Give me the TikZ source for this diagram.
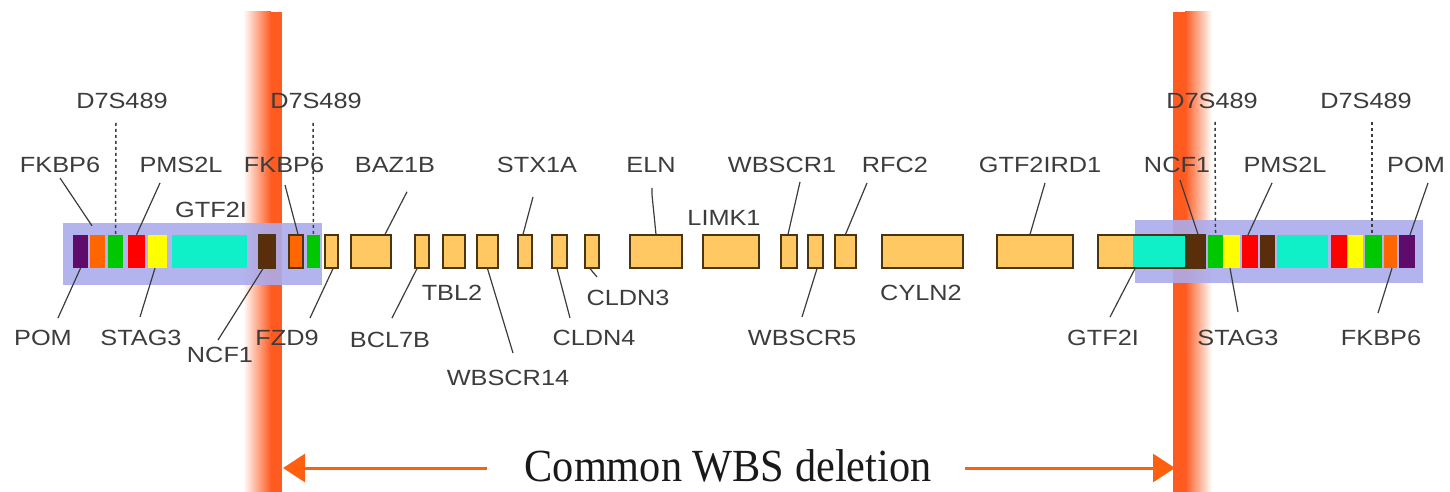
\documentclass[tikz,border=0pt]{standalone}
\usepackage{fontspec}
\newfontfamily\labfont[FakeStretch=1.15]{Liberation Sans}
\newfontfamily\capfont[FakeStretch=0.92]{Liberation Serif}
\usetikzlibrary{arrows.meta}
\definecolor{txtc}{HTML}{3C3C3C}
\definecolor{genec}{HTML}{FFC862}
\definecolor{geneedge}{HTML}{4A3510}
\definecolor{purp}{HTML}{5E0B6B}
\definecolor{orng}{HTML}{FF6600}
\definecolor{grn}{HTML}{00C800}
\definecolor{rd}{HTML}{FF0000}
\definecolor{ylw}{HTML}{FFFF00}
\definecolor{cyn}{HTML}{10F0C8}
\definecolor{brn}{HTML}{5A2E0A}
\definecolor{bandc}{HTML}{ABABEB}
\definecolor{barc}{HTML}{FF5A20}
\definecolor{arrc}{HTML}{FF6010}
\newcommand\gbox[4]{\node[#4, minimum width=#3pt] (#1) at (#2,251.5) {};}
\begin{document}
\begin{tikzpicture}[x=1pt,y=-1pt,
  lab/.style={font={\labfont\fontsize{22}{22}\selectfont}, text=txtc, inner sep=0pt},
  gene/.style={draw=geneedge, line width=1.3pt, fill=genec, minimum height=33pt, inner sep=0pt},
  chip/.style={fill=#1, draw=none, minimum height=33pt, inner sep=0pt},
  echip/.style={fill=#1, draw=geneedge, line width=1.3pt, minimum height=33pt, inner sep=0pt},
  band/.style={fill=bandc, fill opacity=0.9, draw=none, inner sep=0pt},
  conn/.style={draw=txtc, line width=1.2pt},
  dotl/.style={draw=txtc, line width=1.5pt, dash pattern=on 3pt off 3pt},
  arr/.style={draw=arrc, line width=3pt, -{Triangle[length=22pt,width=28pt]}}]
\useasboundingbox (0,0) rectangle (1450,492);
% vertical breakpoint bars
\shade[left color=white, right color=barc] (243,12) rectangle (271,492);
\fill[barc] (270.5,12) rectangle (282,492);
\fill[barc] (1173,12) rectangle (1185.5,492);
\shade[left color=barc, right color=white] (1185,12) rectangle (1212,492);
% bands
\node[band, minimum width=259pt, minimum height=62pt] (bandL) at (192.5,254) {};
\node[band, minimum width=288pt, minimum height=63pt] (bandR) at (1279,251.5) {};
% left chips
\gbox{L1}{80.5}{15}{chip=purp}
\gbox{L2}{97.5}{15}{chip=orng}
\gbox{L3}{115.5}{15}{chip=grn}
\gbox{L4}{136.5}{17}{chip=rd}
\gbox{L5}{157.5}{19}{chip=ylw}
\gbox{L6}{209.5}{75}{chip=cyn}
\gbox{L7}{267}{16}{echip=brn}
\gbox{L8}{296}{14}{echip=orng}
\gbox{L9}{313.5}{13}{chip=grn}
% genes
\gbox{gFZD9}{331.5}{13}{gene}
\gbox{gBAZ}{371}{40}{gene}
\gbox{gBCL}{422}{14}{gene}
\gbox{gTBL}{454}{22}{gene}
\gbox{gW14}{487.5}{21}{gene}
\gbox{gSTX}{525}{14}{gene}
\gbox{gCL4}{559.5}{15}{gene}
\gbox{gCL3}{592}{14}{gene}
\gbox{gELN}{656}{52}{gene}
\gbox{gLIM}{731}{56}{gene}
\gbox{gW1}{789}{16}{gene}
\gbox{gW5}{815.5}{15}{gene}
\gbox{gRFC}{845.5}{21}{gene}
\gbox{gCYL}{922.5}{81}{gene}
\gbox{gIRD}{1035}{76}{gene}
\node[gene, minimum width=88pt, path picture={\fill[cyn] ([xshift=35pt]path picture bounding box.south west) rectangle (path picture bounding box.north east);}] (gGTF) at (1142,251.5) {};
% right chips
\gbox{R1}{1196.5}{17}{echip=brn}
\gbox{R2}{1215.5}{15}{chip=grn}
\gbox{R3}{1231.5}{17}{chip=ylw}
\gbox{R4}{1250}{16}{chip=rd}
\gbox{R5}{1267.5}{15}{chip=brn}
\gbox{R6}{1302.5}{51}{chip=cyn}
\gbox{R7}{1339}{16}{chip=rd}
\gbox{R8}{1355.5}{15}{chip=ylw}
\gbox{R9}{1373.5}{17}{chip=grn}
\gbox{R10}{1390.5}{13}{chip=orng}
\gbox{R11}{1407}{16}{chip=purp}
% labels
\node[lab] (tD1) at (122,101) {D7S489};
\node[lab] (tD2) at (316,101) {D7S489};
\node[lab] (tD3) at (1212,101) {D7S489};
\node[lab] (tD4) at (1366,101) {D7S489};
\node[lab] (tFK1) at (60,165) {FKBP6};
\node[lab] (tPM1) at (181,165) {PMS2L};
\node[lab] (tFK2) at (284,165) {FKBP6};
\node[lab] (tBAZ) at (395,165) {BAZ1B};
\node[lab] (tSTX) at (537,165) {STX1A};
\node[lab] (tELN) at (651,165) {ELN};
\node[lab] (tW1) at (782,165) {WBSCR1};
\node[lab] (tRFC) at (895,165) {RFC2};
\node[lab] (tIRD) at (1040,165) {GTF2IRD1};
\node[lab] (tNC2) at (1177,165) {NCF1};
\node[lab] (tPM2) at (1285,165) {PMS2L};
\node[lab] (tPO2) at (1416,165) {POM};
\node[lab] (tGT1) at (211,210) {GTF2I};
\node[lab] (tLIM) at (724,218) {LIMK1};
\node[lab] (tTBL) at (452,293) {TBL2};
\node[lab] (tCL3) at (628,298) {CLDN3};
\node[lab] (tCYL) at (921,293) {CYLN2};
\node[lab] (tPO1) at (43,338) {POM};
\node[lab] (tST1) at (141,338) {STAG3};
\node[lab] (tFZD) at (287,338) {FZD9};
\node[lab] (tBCL) at (390,340) {BCL7B};
\node[lab] (tCL4) at (594,338) {CLDN4};
\node[lab] (tW5) at (802,338) {WBSCR5};
\node[lab] (tGT2) at (1103,338) {GTF2I};
\node[lab] (tST2) at (1238,338) {STAG3};
\node[lab] (tFK3) at (1381,338) {FKBP6};
\node[lab] (tNC1) at (220,355) {NCF1};
\node[lab] (tW14) at (508,378) {WBSCR14};
% dotted marker lines
\draw[dotl] ([shift={(-6,14)}]tD1.south) -- (L3.north);
\draw[dotl] ([shift={(-3,14)}]tD2.south) -- (L9.north);
\draw[dotl] ([shift={(3,13)}]tD3.south) -- (R2.north);
\draw[dotl] ([shift={(6,13)}]tD4.south) -- ([shift={(-1.5,0)}]R9.north);
% connectors
\draw[conn] ([shift={(0,5)}]tFK1.south) -- ([shift={(-5.5,-9)}]L2.north);
\draw[conn] ([shift={(-21,10)}]tPM1.south) -- (L4.north);
\draw[conn] ([shift={(15,-12)}]tPO1.north) -- (L1.south);
\draw[conn] ([shift={(-1,-13)}]tST1.north) -- ([shift={(-2.5,0)}]L5.south);
\draw[conn] ([shift={(-2,-7)}]tNC1.north) -- ([shift={(-4,0)}]L7.south);
\draw[conn] ([shift={(1,12)}]tFK2.south) -- ([shift={(2,0)}]L8.north);
\draw[conn] ([shift={(23,-12)}]tFZD.north) -- ([shift={(1.5,0)}]gFZD9.south);
\draw[conn] ([shift={(12,19)}]tBAZ.south) -- ([shift={(14,0)}]gBAZ.north);
\draw[conn] ([shift={(2,-14)}]tBCL.north) -- ([shift={(-5,0)}]gBCL.south);
\draw[conn] ([shift={(5,-17)}]tW14.north) -- (gW14.south);
\draw[conn] ([shift={(-4,24)}]tSTX.south) -- ([shift={(-2,0)}]gSTX.north);
\draw[conn] ([shift={(-24,-12)}]tCL4.north) -- ([shift={(-2.5,0)}]gCL4.south);
\draw[conn] ([shift={(-31,-13)}]tCL3.north) -- ([shift={(-2,0)}]gCL3.south);
\draw[conn] ([shift={(1,15)}]tELN.south) -- ([shift={(1,22)}]tELN.south) -- (gELN.north);
\draw[conn] ([shift={(18,9)}]tW1.south) -- ([shift={(-1,0)}]gW1.north);
\draw[conn] ([shift={(0,-13)}]tW5.north) -- ([shift={(1.5,0)}]gW5.south);
\draw[conn] ([shift={(-28,10)}]tRFC.south) -- (gRFC.north);
\draw[conn] ([shift={(5,10)}]tIRD.south) -- ([shift={(-5,0)}]gIRD.north);
\draw[conn] ([shift={(3,7)}]tNC2.south) -- ([shift={(1.5,0)}]R1.north);
\draw[conn] ([shift={(-13,10)}]tPM2.south) -- ([shift={(-2,0)}]R4.north);
\draw[conn] ([shift={(12,10)}]tPO2.south) -- ([shift={(3,0)}]R11.north);
\draw[conn] ([shift={(7,-13)}]tGT2.north) -- ([shift={(-7,0)}]gGTF.south);
\draw[conn] ([shift={(0,-18)}]tST2.north) -- ([shift={(-1.5,0)}]R3.south);
\draw[conn] ([shift={(-3,-17)}]tFK3.north) -- ([shift={(1.5,0)}]R10.south);
% bottom caption and arrows
\node[font={\capfont\fontsize{46}{46}\selectfont}, text=black!90, inner sep=0pt] (cap) at (728,466) {Common WBS deletion};
\coordinate (aLs) at (487,468);
\coordinate (aLe) at (283,468);
\coordinate (aRs) at (965,468);
\coordinate (aRe) at (1175,468);
\draw[arr] (aLs) -- (aLe);
\draw[arr] (aRs) -- (aRe);
\end{tikzpicture}
\end{document}
